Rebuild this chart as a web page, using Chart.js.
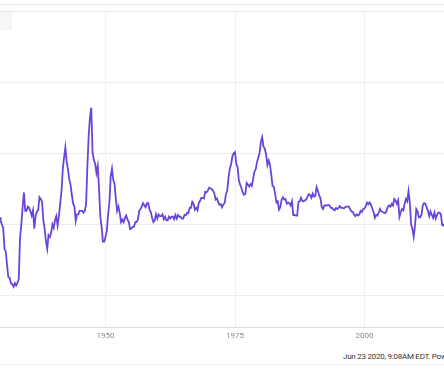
<!DOCTYPE html>
<html lang="en">
<head>
    <meta charset="UTF-8">
    <title>US Inflation Rate</title>
    <script src="https://cdn.jsdelivr.net/npm/chart.js"></script>
    <style>
        body {
            margin: 0;
            width: 444px;
            height: 371px;
            overflow: hidden;
            background: #ffffff;
            font-family: Roboto, Arial, sans-serif;
            position: relative;
        }

        .top-rule {
            position: absolute;
            left: 0;
            top: 4px;
            width: 444px;
            border-top: 1px solid #e6e6e6;
        }

        .legend-stub {
            position: absolute;
            left: 0;
            top: 10px;
            width: 12px;
            height: 20px;
            background: #f6f6f6;
        }

        .chart-box {
            position: absolute;
            left: 0;
            top: 11px;
            width: 444px;
            height: 334px;
        }

        .footer {
            position: absolute;
            left: 343px;
            top: 352px;
            font-size: 8px;
            letter-spacing: -0.25px;
            color: #333333;
            white-space: nowrap;
        }

        .bottom-rule {
            position: absolute;
            left: 0;
            top: 364px;
            width: 444px;
            border-top: 1px solid #f2f2f2;
        }
    </style>
</head>
<body>
    <div class="top-rule"></div>
    <div class="legend-stub"></div>
    <div class="chart-box">
        <canvas id="grafico"></canvas>
    </div>
    <div class="footer">Jun 23 2020, 9:08AM EDT. Powered by YCharts</div>
    <div class="bottom-rule"></div>

    <script>
        // one row per year, values for Jan / Apr / Jul / Oct (YoY %)
        const years = [
            1929, 1930, 1931, 1932, 1933, 1934, 1935, 1936, 1937, 1938,
            1939, 1940, 1941, 1942, 1943, 1944, 1945, 1946, 1947, 1948,
            1949, 1950, 1951, 1952, 1953, 1954, 1955, 1956, 1957, 1958,
            1959, 1960, 1961, 1962, 1963, 1964, 1965, 1966, 1967, 1968,
            1969, 1970, 1971, 1972, 1973, 1974, 1975, 1976, 1977, 1978,
            1979, 1980, 1981, 1982, 1983, 1984, 1985, 1986, 1987, 1988,
            1989, 1990, 1991, 1992, 1993, 1994, 1995, 1996, 1997, 1998,
            1999, 2000, 2001, 2002, 2003, 2004, 2005, 2006, 2007, 2008,
            2009, 2010, 2011, 2012, 2013, 2014, 2015
        ];
        const inflation = [
            [0.0, -0.6, 1.2, 0.6], [0.0, -0.6, -4.1, -4.6], [-7.0, -8.9, -9.0, -9.9],
            [-10.1, -10.5, -9.9, -10.3], [-9.8, -9.2, -2.2, 0.0], [3.0, 5.4, 2.3, 2.3],
            [3.0, 2.8, 2.2, 1.5], [2.4, -0.7, 1.4, 2.2], [2.4, 4.6, 4.3, 3.8],
            [0.7, -0.7, -2.8, -4.1], [-1.8, -2.1, -1.4, 0.0], [-0.6, 0.7, 1.4, -0.2],
            [1.4, 3.5, 5.6, 9.3], [11.3, 13.0, 10.6, 9.3], [7.6, 6.7, 5.0, 3.5],
            [3.0, 0.6, 1.7, 1.7], [2.3, 2.3, 2.3, 2.0], [2.3, 3.4, 9.9, 14.9],
            [18.1, 19.7, 12.1, 10.9], [10.2, 8.7, 9.9, 6.0], [1.3, -0.4, -2.9, -2.9],
            [-2.1, -1.1, 1.7, 3.7], [8.1, 9.4, 7.5, 6.8], [4.3, 2.3, 3.0, 1.9],
            [0.4, 0.8, 0.4, 1.1], [1.5, 0.8, 0.4, -0.8], [-0.7, -0.4, -0.4, 0.4],
            [0.4, 0.8, 2.3, 2.6], [3.0, 3.6, 3.2, 2.9], [3.6, 3.6, 2.5, 2.1],
            [1.1, 0.4, 0.7, 1.7], [1.0, 1.7, 1.4, 1.4], [1.7, 0.9, 1.3, 0.7],
            [0.7, 1.3, 1.0, 1.3], [1.3, 0.9, 1.6, 1.0], [1.6, 1.3, 1.3, 1.0],
            [1.0, 1.6, 1.6, 2.0], [1.9, 2.8, 2.8, 3.8], [3.5, 2.5, 2.8, 2.4],
            [3.6, 4.0, 4.5, 4.5], [4.4, 5.5, 5.4, 5.7], [6.2, 6.1, 6.0, 5.7],
            [5.3, 4.2, 4.4, 3.8], [3.3, 3.4, 2.9, 3.4], [3.6, 5.1, 5.7, 7.9],
            [9.4, 10.2, 11.5, 12.0], [12.2, 10.2, 9.7, 7.4], [6.7, 6.1, 5.4, 5.0],
            [5.2, 7.0, 6.7, 6.4], [6.8, 6.5, 7.7, 8.9], [9.3, 10.5, 11.3, 12.1],
            [13.9, 14.7, 13.1, 12.8], [11.8, 10.0, 10.8, 10.1], [8.4, 6.5, 6.4, 5.1],
            [3.7, 3.9, 2.5, 2.9], [4.2, 4.6, 4.2, 4.3], [3.5, 3.7, 3.6, 3.2],
            [3.9, 1.6, 1.6, 1.5], [1.5, 3.8, 3.9, 4.5], [4.0, 3.9, 4.1, 4.2],
            [4.7, 5.1, 5.0, 4.5], [5.2, 4.7, 4.8, 6.3], [5.7, 4.9, 4.4, 2.9],
            [2.6, 3.2, 3.2, 3.2], [3.3, 3.2, 2.8, 2.8], [2.5, 2.4, 2.8, 2.6],
            [2.8, 3.1, 2.8, 2.8], [2.7, 2.9, 3.0, 3.0], [3.0, 2.5, 2.2, 2.1],
            [1.6, 1.4, 1.7, 1.5], [1.7, 2.3, 2.1, 2.6], [2.7, 3.1, 3.7, 3.4],
            [3.7, 3.3, 2.7, 2.1], [1.1, 1.6, 1.5, 2.0], [2.6, 2.2, 2.1, 2.0],
            [1.9, 2.3, 3.0, 3.2], [3.0, 3.5, 3.2, 4.3], [4.0, 3.5, 4.1, 1.3],
            [2.1, 2.6, 2.4, 3.5], [4.3, 3.9, 5.6, 3.7], [0.0, -0.7, -2.1, -0.2],
            [2.6, 2.2, 1.2, 1.2], [1.6, 3.2, 3.6, 3.5], [2.9, 2.3, 1.4, 2.2],
            [1.6, 1.1, 2.0, 1.0], [1.6, 2.0, 2.0, 1.7], [-0.1, -0.2, 0.2, 0.2]
        ];
        const xTicks = [1950, 1975, 2000];
        const yTicks = [-12, 0, 12, 24, 36];

        const puntos = [];
        years.forEach((y, i) => {
            inflation[i].forEach((v, q) => puntos.push({ x: y + q * 0.25, y: v }));
        });

        const ctx = document.getElementById("grafico").getContext("2d");
        new Chart(ctx, {
            type: 'line',
            data: {
                datasets: [{
                    label: 'US Inflation Rate',
                    data: puntos,
                    borderColor: '#6a45d9',
                    borderWidth: 1.8,
                    pointRadius: 0,
                    fill: false,
                    tension: 0
                }]
            },
            options: {
                responsive: true,
                maintainAspectRatio: false,
                animation: false,
                layout: { padding: 0 },
                plugins: {
                    legend: { display: false },
                    tooltip: { enabled: false }
                },
                scales: {
                    x: {
                        type: 'linear',
                        min: 1929.63,
                        max: 2015.35,
                        afterBuildTicks: axis => { axis.ticks = xTicks.map(v => ({ value: v })); },
                        grid: { color: '#f0f0f0', drawTicks: false },
                        border: { color: '#dedede' },
                        ticks: {
                            padding: 4,
                            color: '#8a8a8a',
                            font: { family: 'Roboto', size: 8 },
                            callback: v => String(v)
                        }
                    },
                    y: {
                        min: -17.36,
                        max: 36,
                        afterBuildTicks: axis => { axis.ticks = yTicks.map(v => ({ value: v })); },
                        grid: { color: '#ececec', drawTicks: false },
                        border: { display: false },
                        ticks: { display: false }
                    }
                }
            }
        });
    </script>
</body>
</html>
